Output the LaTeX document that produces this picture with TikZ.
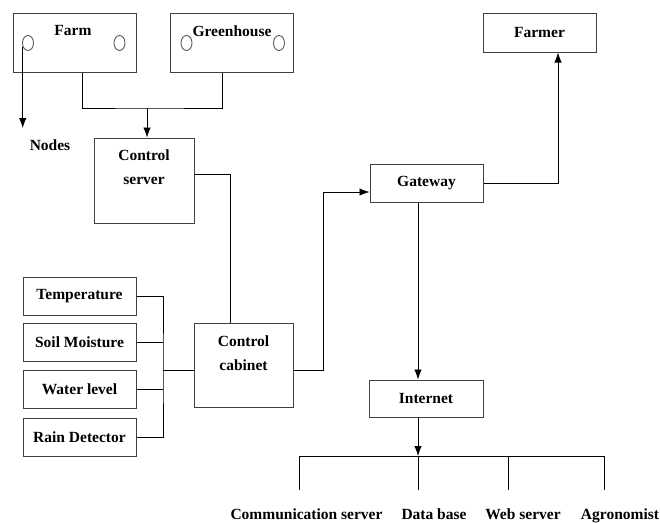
\documentclass[tikz,border=0pt]{standalone}
\usepackage{fontspec}
\setmainfont{Liberation Serif}
\usetikzlibrary{arrows.meta}
\usetikzlibrary{positioning}
\usetikzlibrary{shapes.geometric}
\newcommand{\lblfont}{\bfseries\fontsize{15.5}{24}\selectfont}
\tikzset{box/.style = {draw=black!75, line width = 1pt, inner sep = 0, font = \lblfont}}
\tikzset{lbl/.style = {inner sep = 0, font = \lblfont, align = center}}
\tikzset{hole/.style = {draw=black!65, ellipse, line width = 0.9pt, inner sep = 0, minimum width = 11, minimum height = 15}}
\tikzset{arr/.style = {-{Latex[length = 10pt, width = 7.5pt]}}}

\begin{document}
\begin{tikzpicture}[x=1pt, y=-1pt, line width=0.8pt]
    \useasboundingbox (0,0) rectangle (660,522);

    % field side
    \node [box, minimum width=123, minimum height=59] (farm) at (74.5,42.5) {};
    \node [lbl] (farmtxt) at (73,31) {Farm};
    \node [hole] (fc1) at (28,43) {};
    \node [hole] (fc2) at (119.5,43) {};

    \node [box, minimum width=123, minimum height=59] (greenhouse) at (231.5,42.5) {};
    \node [lbl] (ghtxt) at (232,31) {Greenhouse};
    \node [hole] (gc1) at (186.5,43) {};
    \node [hole] (gc2) at (279,43) {};

    \node [lbl] (nodes) at (50,145) {Nodes};
    \coordinate (ndtip) at (24,128);
    \draw [arr] (fc1.215) -- (fc1.215 |- ndtip);

    \node [box, minimum width=100, minimum height=85] (ctrlserver) at (144,180.5) {};
    \node [lbl] (cstxt) at (144,167) {Control\\server};

    \coordinate (join) at (147,108);
    \draw ([xshift=7.5]farm.south) |- (join) -| ([xshift=-9.5]greenhouse.south);
    \draw [arr] (join) -- (join |- ctrlserver.north);

    % sensors
    \foreach \name/\txt/\y in {temp/Temperature/296.5, soil/Soil Moisture/342.5,
                               water/Water level/389, rain/Rain Detector/437}
      \node [box, minimum width=113, minimum height=38] (\name) at (79.5,\y) {\txt};

    \node [box, minimum width=99, minimum height=84] (cabinet) at (243.5,365) {};
    \node [lbl] (cctxt) at (243.5,353) {Control\\cabinet};

    \coordinate (sbus) at (163,370);
    \draw (temp.east) -| (sbus) |- (rain.east);
    \draw (soil.east) -- (soil.east -| sbus);
    \draw (water.east) -- (water.east -| sbus);
    \draw (sbus) -- (sbus -| cabinet.west);

    \draw ([yshift=6.5]ctrlserver.east) -| ([xshift=-13.5]cabinet.north);

    % network side
    \node [box, minimum width=113, minimum height=38] (gateway) at (426.5,183) {Gateway};
    \node [box, minimum width=113, minimum height=39] (farmer) at (539.5,32.5) {Farmer};
    \node [box, minimum width=114, minimum height=37] (internet) at (426,398.5) {Internet};

    \draw [arr] ([yshift=-5]cabinet.east) -- ++(30,0) |- ([yshift=-9]gateway.west);
    \draw [arr] (gateway.east) -| ([xshift=18.5]farmer.south);

    \coordinate (busmid) at (418,456);
    \coordinate (busL) at (299,456);
    \coordinate (busR) at (604,456);
    \draw [arr] (busmid |- gateway.south) -- (busmid |- internet.north);
    \draw [arr] (busmid |- internet.south) -- (busmid);
    \draw (busL) -- (busR);
    \foreach \x in {299, 418, 508, 604}
      \draw (\x,456) -- (\x,490);

    \node [lbl, anchor=base] (comm) at (306.5,519) {Communication server};
    \node [lbl, anchor=base] (db) at (434,519) {Data base};
    \node [lbl, anchor=base] (web) at (523,519) {Web server};
    \node [lbl, anchor=base] (agro) at (620,519) {Agronomist};
\end{tikzpicture}
\end{document}
